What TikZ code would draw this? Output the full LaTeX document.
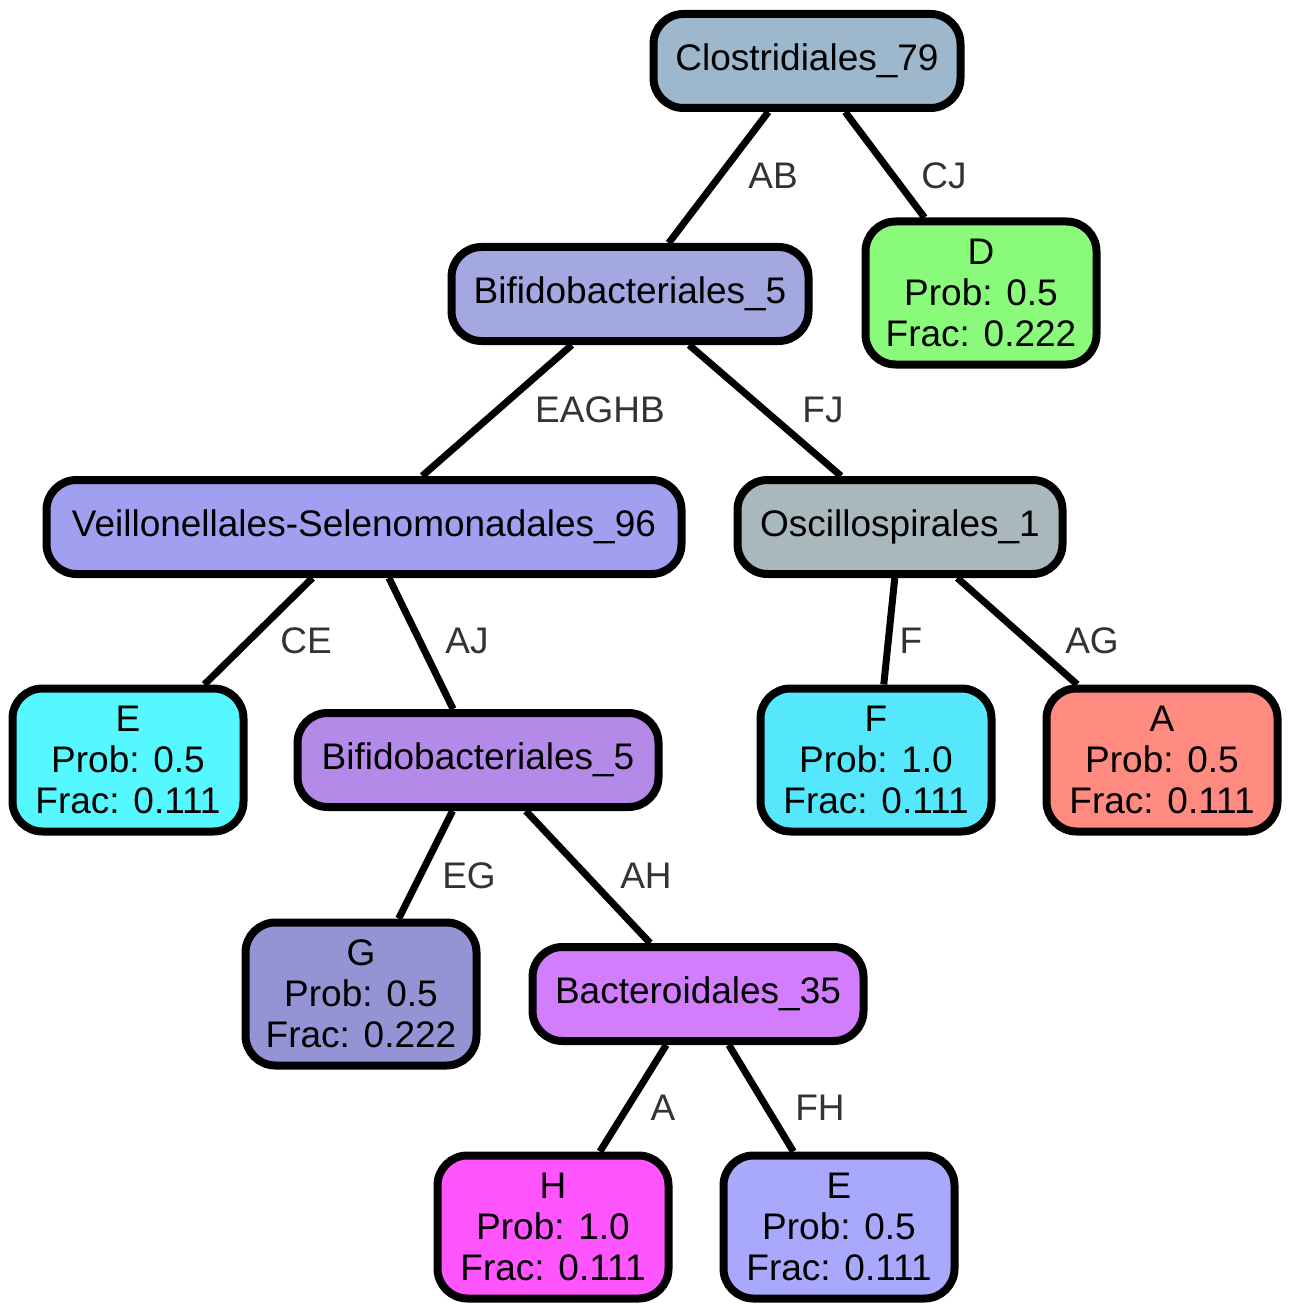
\documentclass[tikz,border=0pt]{standalone}
\usepackage{fontspec}
\setmainfont{Liberation Sans}
\definecolor{closfill}{HTML}{9DB8CC}
\definecolor{bifafill}{HTML}{A3A8E0}
\definecolor{dfill}{HTML}{8AFA7A}
\definecolor{veilfill}{HTML}{A09FF0}
\definecolor{oscfill}{HTML}{A8B8BC}
\definecolor{efill}{HTML}{55F8FF}
\definecolor{bifbfill}{HTML}{B38AE8}
\definecolor{ffill}{HTML}{55E8FC}
\definecolor{afill}{HTML}{FF8A80}
\definecolor{gfill}{HTML}{9494D4}
\definecolor{bactfill}{HTML}{D17DFC}
\definecolor{hfill}{HTML}{FF55FF}
\definecolor{etwofill}{HTML}{A8A8FC}
\definecolor{labgray}{HTML}{333333}
\tikzstyle{taxon}=[rectangle,draw=black,rounded corners=30pt,line width=8pt,inner sep=0mm,minimum height=94pt,font=\fontsize{37}{41}\selectfont]
\tikzstyle{leaf}=[taxon,align=center,minimum width=231pt,minimum height=143pt]
\tikzstyle{elabel}=[text=labgray,inner sep=0mm,font=\fontsize{37}{41}\selectfont]
\tikzstyle{edge}=[line width=7pt]
\begin{document}
\begin{tikzpicture}[x=1pt,y=-1pt]
    \useasboundingbox (0,0) rectangle (1292,1313);
    % internal nodes
    \node[taxon,fill=closfill,minimum width=307pt] at (807,61) (clos) {Clostridiales\_79};
    \node[taxon,fill=bifafill,minimum width=357pt] at (630,294) (bifa) {Bifidobacteriales\_5};
    \node[taxon,fill=veilfill,minimum width=635pt] at (364,527) (veil) {Veillonellales-Selenomonadales\_96};
    \node[taxon,fill=oscfill,minimum width=325pt] at (900,527) (osc) {Oscillospirales\_1};
    \node[taxon,fill=bifbfill,minimum width=361pt] at (478,760) (bifb) {Bifidobacteriales\_5};
    \node[taxon,fill=bactfill,minimum width=331pt] at (698,994) (bact) {Bacteroidales\_35};
    % leaves
    \node[leaf,fill=dfill] at (981,293) (d) {D\\Prob: 0.5\\Frac: 0.222};
    \node[leaf,fill=efill] at (128,760) (e) {E\\Prob: 0.5\\Frac: 0.111};
    \node[leaf,fill=ffill] at (876,760) (f) {F\\Prob: 1.0\\Frac: 0.111};
    \node[leaf,fill=afill] at (1162,760) (a) {A\\Prob: 0.5\\Frac: 0.111};
    \node[leaf,fill=gfill] at (361,994) (g) {G\\Prob: 0.5\\Frac: 0.222};
    \node[leaf,fill=hfill] at (553,1227) (h) {H\\Prob: 1.0\\Frac: 0.111};
    \node[leaf,fill=etwofill] at (839,1227) (etwo) {E\\Prob: 0.5\\Frac: 0.111};
    % edges
    \draw[edge] (clos) -- (bifa);
    \draw[edge] (clos) -- (d);
    \draw[edge] (bifa) -- (veil);
    \draw[edge] (bifa) -- (osc);
    \draw[edge] (veil) -- (e);
    \draw[edge] (veil) -- (bifb);
    \draw[edge] (osc) -- (f);
    \draw[edge] (osc) -- (a);
    \draw[edge] (bifb) -- (g);
    \draw[edge] (bifb) -- (bact);
    \draw[edge] (bact) -- (h);
    \draw[edge] (bact) -- (etwo);
    % edge labels
    \node[elabel] at (773,176) (lab) {AB};
    \node[elabel] at (944,176) (lcj) {CJ};
    \node[elabel] at (600,410) (leaghb) {EAGHB};
    \node[elabel] at (823,410) (lfj) {FJ};
    \node[elabel] at (306,641) (lce) {CE};
    \node[elabel] at (467,641) (laj) {AJ};
    \node[elabel] at (911,641) (lf) {F};
    \node[elabel] at (1092,641) (lag) {AG};
    \node[elabel] at (469,876) (leg) {EG};
    \node[elabel] at (646,876) (lah) {AH};
    \node[elabel] at (663,1108) (la) {A};
    \node[elabel] at (820,1108) (lfh) {FH};
  \end{tikzpicture}
\end{document}
